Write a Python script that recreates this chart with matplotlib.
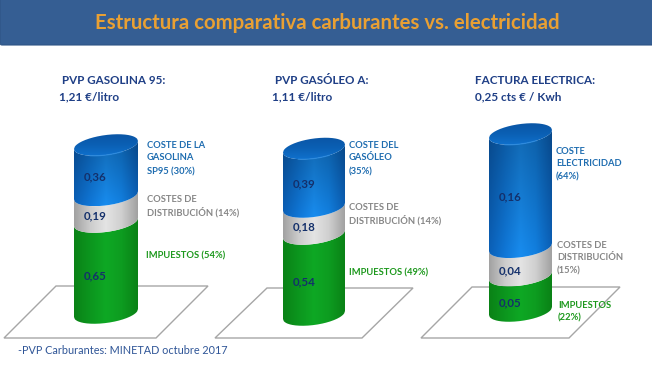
import matplotlib
matplotlib.use('Agg')
import matplotlib.pyplot as plt
from matplotlib.colors import LinearSegmentedColormap
from matplotlib.patches import FancyBboxPatch, PathPatch, Polygon
from matplotlib.path import Path
import numpy as np

W, H = 652, 367
plt.rcParams['font.family'] = ['Lato', 'DejaVu Sans']

TITLE = 'Estructura comparativa carburantes vs. electricidad'
SOURCE = '-PVP Carburantes: MINETAD octubre 2017'

# stacked values, bottom to top: impuestos, distribucion, coste
gasolina = [0.65, 0.19, 0.36]
gasoleo = [0.54, 0.18, 0.39]
electricidad = [0.05, 0.04, 0.16]
value_labels_gasolina = ['0,65', '0,19', '0,36']
value_labels_gasoleo = ['0,54', '0,18', '0,39']
value_labels_electricidad = ['0,05', '0,04', '0,16']

heads = ['PVP GASOLINA 95:', 'PVP GASÓLEO A:', 'FACTURA ELECTRICA:']
prices = ['1,21 €/litro', '1,11 €/litro', '0,25 cts € / Kwh']

BLUE = ['#0a58a8', '#0e6cc4', '#1680da', '#1074cc', '#0a58a8']
GREY = ['#a2a2a2', '#cccccc', '#e4e4e4', '#cfcfcf', '#a2a2a2']
GREEN = ['#0a8216', '#0c961e', '#0ea824', '#0d9c20', '#0a8216']
SEGMENTS = [GREEN, GREY, BLUE]
# brightness of each segment at its top and bottom
SHADES = [(1.0, 1.0), (1.0, 1.0), (0.82, 1.1)]
C_NAVY = '#1f3f86'
C_BLUE = '#1f6db0'
C_GREY = '#868686'
C_GREEN = '#1c981c'

# layout in pixels: x left/right, y of the base, px per euro, floor corners
panels = [
    dict(vals=gasolina, labels=value_labels_gasolina, x0=74, x1=138, base=313, scale=140,
         floor=[(4, 338), (156, 338), (208, 286), (56, 286)], label_x=95, label_y=[276, 216, 177]),
    dict(vals=gasoleo, labels=value_labels_gasoleo, x0=283, x1=345, base=315, scale=150,
         floor=[(215, 338), (362, 338), (413, 288), (267, 288)], label_x=304, label_y=[282, 227, 184]),
    dict(vals=electricidad, labels=value_labels_electricidad, x0=489, x1=552, base=311, scale=708,
         floor=[(421, 338), (569, 338), (620, 287), (472, 287)], label_x=510, label_y=[303, 271, 197]),
]
B_PX, TILT_PX = 10, 4

fig = plt.figure(figsize=(W / 100, H / 100), dpi=100, facecolor='white')

# pixel axes for header, floors and text
px = fig.add_axes([0, 0, 1, 1], zorder=1)
px.set_xlim(0, W)
px.set_ylim(H, 0)
px.axis('off')

px.add_patch(FancyBboxPatch((0, -20), W + 10, 65, boxstyle='round,pad=0,rounding_size=2',
                            fc='#355e93', ec='#2f5585', lw=0.8))
px.text(327.5, 23, TITLE, color='#e9a033', fontsize=14.7, fontweight='bold', ha='center', va='center')

for p in panels:
    px.add_patch(Polygon(p['floor'], closed=True, fc='white', ec='#a6a6a6', lw=1.0))


def edge(x, level, b, tilt, sign=-1):
    # front (sign -1) or back (sign +1) half of the tilted ring
    return level + sign * b * np.sqrt(np.clip(1 - x ** 2, 0, 1)) + tilt * x


def cylinder(p):
    ax = fig.add_axes([0, 0, 1, 1], zorder=2)
    ax.axis('off')
    ax.patch.set_alpha(0)
    b, tilt = B_PX / p['scale'], TILT_PX / p['scale']
    t = np.linspace(-1, 1, 80)
    xs = (p['x0'] + p['x1']) / 2 + t * (p['x1'] - p['x0']) / 2
    level = 0
    for val, cols, shade in zip(p['vals'], SEGMENTS, SHADES):
        low = edge(t, level, b, tilt)
        high = edge(t, level + val, b, tilt)
        verts = np.r_[np.c_[xs, low], np.c_[xs[::-1], high[::-1]], [[xs[0], low[0]]]]
        patch = PathPatch(Path(verts), fc='none', ec='none')
        ax.add_patch(patch)
        cmap = LinearSegmentedColormap.from_list('seg', cols)
        rgb = cmap(np.linspace(0, 1, 64))[None, :, :3]
        rgb = np.clip(rgb * np.linspace(*shade, 48)[:, None, None], 0, 1)
        im = ax.imshow(rgb, aspect='auto', interpolation='bilinear',
                       extent=(xs[0], xs[-1], verts[:, 1].min(), verts[:, 1].max()))
        im.set_clip_path(patch)
        level += val
    # top cap of the blue segment
    ring = np.r_[np.c_[xs, edge(t, level, b, tilt)], np.c_[xs[::-1], edge(t[::-1], level, b, tilt, 1)]]
    cap = PathPatch(Path(np.r_[ring, ring[:1]]), fc='none', ec='none')
    ax.add_patch(cap)
    cmap = LinearSegmentedColormap.from_list('cap', ['#0f70cc', '#0b60b4', '#0a56a6'])
    im = ax.imshow(np.linspace(0, 1, 32)[:, None], cmap=cmap, aspect='auto', interpolation='bilinear', origin='lower',
                   extent=(xs[0], xs[-1], ring[:, 1].min(), ring[:, 1].max()))
    im.set_clip_path(cap)
    ax.plot(xs[20:60], edge(t[20:60], level, b, tilt), color='#2a8ae0', lw=0.9, alpha=0.8)
    ax.set_xlim(0, W)
    ax.set_ylim(-(H - p['base']) / p['scale'], p['base'] / p['scale'])


for p in panels:
    cylinder(p)

# text on top of the cylinders
tx = fig.add_axes([0, 0, 1, 1], zorder=3)
tx.set_xlim(0, W)
tx.set_ylim(H, 0)
tx.axis('off')
tx.patch.set_alpha(0)

for p in panels:
    for lab, y in zip(p['labels'], p['label_y']):
        tx.text(p['label_x'], y, lab, color='#14306b', fontsize=8.3, fontweight='bold', ha='center', va='center')

for x, y, head in zip([62, 275, 475], [81, 81, 81], heads):
    tx.text(x, y, head, color=C_NAVY, fontsize=8.4, fontweight='bold', va='center')
for x, y, price in zip([59, 272, 475], [97, 97, 97], prices):
    tx.text(x, y, price, color=C_NAVY, fontsize=8.5, fontweight='bold', va='center')

notes = [
    (147, 145, 'COSTE DE LA', C_BLUE), (147, 158, 'GASOLINA', C_BLUE), (147, 172, 'SP95 (30%)', C_BLUE),
    (147, 199, 'COSTES DE', C_GREY), (147, 212, 'DISTRIBUCIÓN (14%)', C_GREY),
    (146, 256, 'IMPUESTOS (54%)', C_GREEN),
    (349, 145, 'COSTE DEL', C_BLUE), (349, 158, 'GASÓLEO', C_BLUE), (349, 172, '(35%)', C_BLUE),
    (349, 207, 'COSTES DE', C_GREY), (349, 220, 'DISTRIBUCIÓN (14%)', C_GREY),
    (349, 273, 'IMPUESTOS (49%)', C_GREEN),
    (556, 151, 'COSTE', C_BLUE), (556, 164, 'ELECTRICIDAD', C_BLUE), (556, 177, '(64%)', C_BLUE),
    (557, 245, 'COSTES DE', C_GREY), (557, 258, 'DISTRIBUCIÓN', C_GREY), (557, 271, '(15%)', C_GREY),
    (558, 305, 'IMPUESTOS', C_GREEN), (558, 318, '(22%)', C_GREEN),
]
for x, y, s, c in notes:
    tx.text(x, y, s, color=c, fontsize=6.75, fontweight='bold', va='center')

tx.text(18, 350, SOURCE, color='#2f5597', fontsize=7.85, va='center')

fig.savefig('out.png', dpi=100)
